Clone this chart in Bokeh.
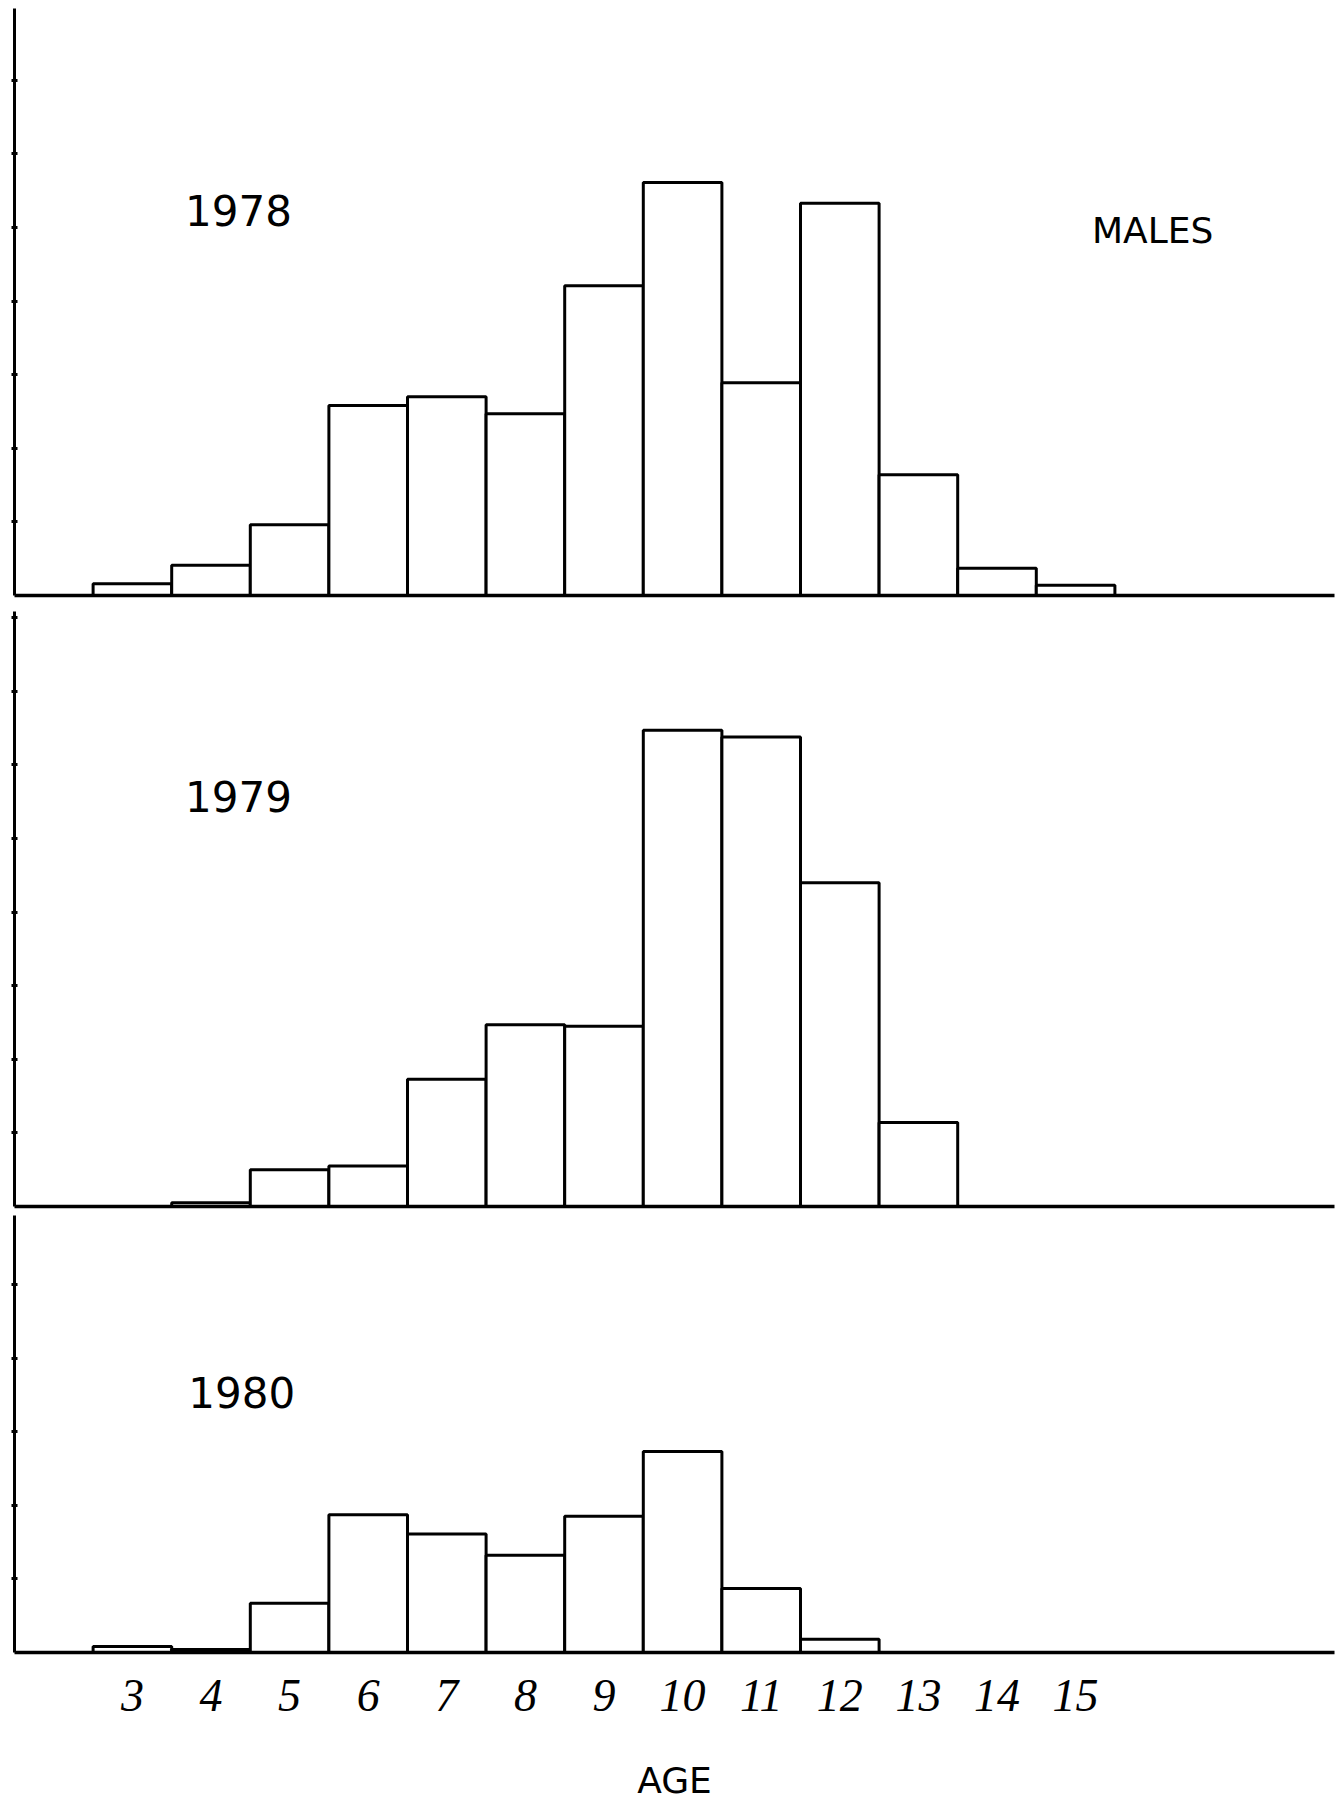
from bokeh.plotting import figure
from bokeh.layouts import column
from bokeh.models import FixedTicker, Range1d, Label
from bokeh.embed import file_html
from bokeh.resources import INLINE

# ---------------- data ----------------
ages = [3, 4, 5, 6, 7, 8, 9, 10, 11, 12, 13, 14, 15]
age_labels = ["3", "4", "5", "6", "7", "8", "9", "10", "11", "12", "13", "14", "15"]
males_1978 = [0.16, 0.41, 0.96, 2.58, 2.70, 2.47, 4.21, 5.61, 2.89, 5.33, 1.64, 0.37, 0.14]
males_1979 = [0.0, 0.05, 0.50, 0.55, 1.73, 2.47, 2.45, 6.47, 6.38, 4.40, 1.14, 0.0, 0.0]
males_1980 = [0.08, 0.04, 0.67, 1.87, 1.61, 1.32, 1.85, 2.73, 0.87, 0.18, 0.0, 0.0, 0.0]
years = ["1978", "1979", "1980"]
sex_label = "MALES"
x_title = "AGE"

# ---------------- geometry ----------------
PX_PER_Y = 73.6
FRAME_W = 1320
X0 = 1.5
X1 = X0 + FRAME_W / 78.6

BLOCK_FONT = "DejaVu Sans"


def make_panel(vals, frame_h, top_b, bot_b, yticks, year, year_pos, last=False):
    p = figure(frame_width=FRAME_W, frame_height=frame_h,
               x_range=Range1d(X0, X1), y_range=Range1d(0, frame_h / PX_PER_Y),
               output_backend="svg", toolbar_location=None,
               min_border_left=14, min_border_right=2,
               min_border_top=top_b, min_border_bottom=bot_b)
    p.outline_line_color = None
    p.grid.visible = False
    p.background_fill_color = "white"
    p.border_fill_color = "white"

    p.vbar(x=ages, top=vals, bottom=0, width=1.0, fill_color="white",
           line_color="black", line_width=3)

    # y axis: ticks only
    p.yaxis.ticker = FixedTicker(ticks=yticks)
    p.yaxis.major_label_text_font_size = "1px"
    p.yaxis.major_label_text_color = None
    p.yaxis.major_label_standoff = 0
    p.yaxis.major_tick_in = 3
    p.yaxis.major_tick_out = 3
    p.yaxis.major_tick_line_width = 3
    p.yaxis.minor_tick_line_color = None
    p.yaxis.axis_line_width = 3
    p.yaxis.axis_line_color = "black"

    p.xaxis.axis_line_width = 3.5
    p.xaxis.axis_line_color = "black"
    p.xaxis.minor_tick_line_color = None
    p.xaxis.major_tick_in = 0
    p.xaxis.major_tick_out = 0
    p.xaxis.ticker = FixedTicker(ticks=ages)
    if last:
        p.xaxis.major_label_overrides = {a: s for a, s in zip(ages, age_labels)}
        p.xaxis.major_label_text_font = "Liberation Serif"
        p.xaxis.major_label_text_font_style = "italic"
        p.xaxis.major_label_text_font_size = "46px"
        p.xaxis.major_label_text_color = "black"
        p.xaxis.major_label_standoff = 27
        p.xaxis.axis_label = x_title
        p.xaxis.axis_label_text_font = BLOCK_FONT
        p.xaxis.axis_label_text_font_style = "normal"
        p.xaxis.axis_label_text_font_size = "36px"
        p.xaxis.axis_label_text_color = "black"
        p.xaxis.axis_label_standoff = 46
    else:
        p.xaxis.major_label_text_font_size = "1px"
        p.xaxis.major_label_text_color = None
        p.xaxis.major_label_standoff = 0

    p.add_layout(Label(x=year_pos[0], y=year_pos[1], text=year,
                       text_font=BLOCK_FONT, text_font_size="42px",
                       text_baseline="middle", text_align="center",
                       text_color="black"))
    return p


p1 = make_panel(males_1978, 587, 8, 10, [1, 2, 3, 4, 5, 6, 7], years[0], (4.35, 5.23))
p1.add_layout(Label(x=15.98, y=4.96, text=sex_label, text_font=BLOCK_FONT,
                    text_font_size="36px", text_baseline="middle",
                    text_align="center", text_color="black"))
p2 = make_panel(males_1979, 595, 6, 6, [1, 2, 3, 4, 5, 6, 7, 8], years[1], (4.35, 5.57))
p3 = make_panel(males_1980, 437, 3, 100, [1, 2, 3, 4, 5], years[2], (4.39, 3.53), last=True)

layout = column(p1, p2, p3, spacing=0)
open("out.html", "w").write(file_html(layout, INLINE))
